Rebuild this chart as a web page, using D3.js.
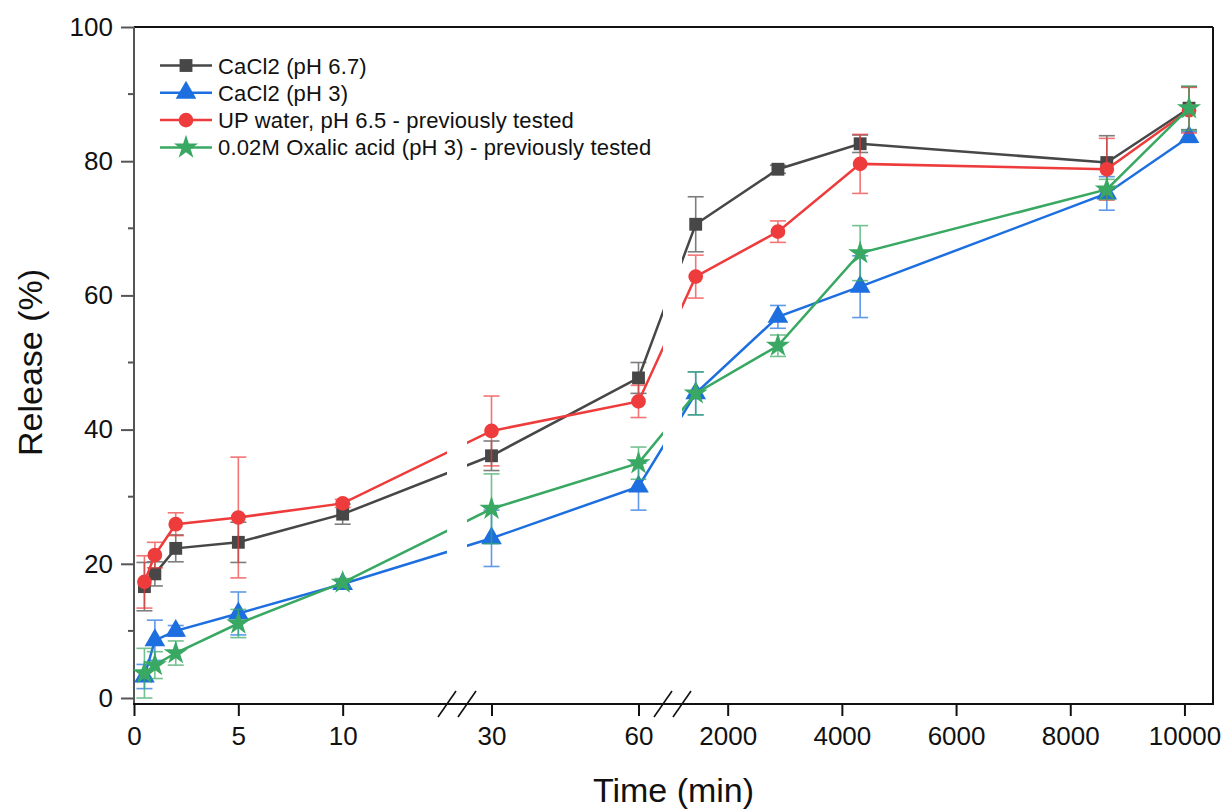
<!DOCTYPE html>
<html lang="en">

<head>
    <meta charset="UTF-8">
    <title>Release vs Time</title>

    <script src="https://cdn.jsdelivr.net/npm/d3@7"></script>

    <style>
        body {
            margin: 0;
            background: #fff;
        }

        text {
            font-family: "Liberation Sans", Arial, sans-serif;
            fill: #111;
        }

        .tick text {
            font-size: 26px;
        }

        .axis_title {
            font-size: 34px;
        }

        .legend_text {
            font-size: 22px;
            letter-spacing: 0.15px;
        }
    </style>

</head>

<body>
    <svg width="1226" height="810"></svg>

    <script>
        // data
        const times = [0.5, 1, 2, 5, 10, 30, 60, 1440, 2880, 4320, 8640, 10080];

        const cacl2_67 = [16.6, 18.5, 22.3, 23.2, 27.4, 36.1, 47.7, 70.6, 78.8, 82.6, 79.8, 87.9];
        const cacl2_67_err = [3.6, 1.8, 2.0, 3.0, 1.5, 2.2, 2.3, 4.1, 0.6, 1.3, 4.0, 3.2];

        const cacl2_3 = [3.2, 8.6, 10.0, 12.6, 17.0, 23.8, 31.5, 45.4, 56.8, 61.3, 75.2, 83.6];
        const cacl2_3_err = [1.8, 3.0, 0.8, 3.2, 0.6, 4.2, 3.5, 3.2, 1.7, 4.6, 2.5, 0.8];

        const upWater = [17.3, 21.3, 25.9, 26.9, 29.0, 39.8, 44.2, 62.8, 69.5, 79.6, 78.8, 87.6];
        const upWater_err = [3.9, 1.9, 1.7, 9.0, 0.6, 5.2, 2.4, 3.2, 1.6, 4.4, 4.6, 3.4];

        const oxalic = [3.7, 4.9, 6.7, 11.1, 17.2, 28.2, 35.0, 45.4, 52.5, 66.3, 75.8, 87.9];
        const oxalic_err = [3.7, 2.0, 1.8, 2.1, 0.6, 5.2, 2.4, 3.2, 1.6, 4.1, 1.5, 3.3];

        const seriesNames = ["CaCl2 (pH 6.7)", "CaCl2 (pH 3)", "UP water, pH 6.5 - previously tested", "0.02M Oxalic acid (pH 3) - previously tested"];
        const seriesColors = ["#474747", "#1d6fe0", "#ee3b3b", "#38a862"];
        const seriesSymbols = [d3.symbolSquare, d3.symbolTriangle, d3.symbolCircle, d3.symbolStar];
        const symbolSizes = [165, 185, 170, 180];

        const xTicks1 = [0, 5, 10];
        const xTicks2 = [30, 60];
        const xTicks3 = [2000, 4000, 6000, 8000, 10000];
        const yTicks = [0, 20, 40, 60, 80, 100];
        const yMinorTicks = [10, 30, 50, 70, 90];

        const values = [cacl2_67, cacl2_3, upWater, oxalic];
        const errors = [cacl2_67_err, cacl2_3_err, upWater_err, oxalic_err];

        let svg = d3.select("svg");

        const mLeft = 134, mRight = 1213, mTop = 27, yZero = 698, axisY = 704;

        // broken x axis: three linear pieces
        const xs1 = d3.scaleLinear().domain([0, 15]).range([mLeft, 447]);
        const xs2 = d3.scaleLinear().domain([25, 65]).range([467, 663]);
        const xs3 = d3.scaleLinear().domain([1200, 10500]).range([682, mRight]);
        const x = t => t <= 15 ? xs1(t) : (t <= 65 ? xs2(t) : xs3(t));

        const y = d3.scaleLinear().domain([0, 100]).range([yZero, mTop]);

        // clip so the lines break where the axis breaks
        const clip = svg.append("defs").append("clipPath").attr("id", "segs");
        [xs1, xs2, xs3].forEach(s => {
            clip.append("rect")
                .attr("x", s.range()[0]).attr("y", 0)
                .attr("width", s.range()[1] - s.range()[0]).attr("height", 810);
        });

        // frame
        svg.append("line").attr("x1", mLeft).attr("x2", mRight).attr("y1", mTop).attr("y2", mTop)
            .attr("stroke", "#111").attr("stroke-width", 2);
        svg.append("line").attr("x1", mRight).attr("x2", mRight).attr("y1", mTop).attr("y2", axisY)
            .attr("stroke", "#111").attr("stroke-width", 2);

        // y axis
        const yAxis = svg.append("g").attr("transform", `translate(${mLeft},0)`)
            .call(d3.axisLeft(y).tickValues(yTicks).tickSize(13).tickPadding(8).tickSizeOuter(0));
        yAxis.select(".domain").remove();
        yAxis.selectAll(".tick line").attr("stroke", "#555").attr("stroke-width", 2);
        svg.append("g").attr("transform", `translate(${mLeft},0)`)
            .selectAll("line").data(yMinorTicks).enter().append("line")
            .attr("x1", -6).attr("x2", 0)
            .attr("y1", d => y(d)).attr("y2", d => y(d))
            .attr("stroke", "#555").attr("stroke-width", 2);
        svg.append("line").attr("x1", mLeft).attr("x2", mLeft).attr("y1", mTop).attr("y2", axisY + 1)
            .attr("stroke", "#555").attr("stroke-width", 2);

        // x axis pieces
        [[xs1, xTicks1], [xs2, xTicks2], [xs3, xTicks3]].forEach(([s, tv]) => {
            const g = svg.append("g").attr("transform", `translate(0,${axisY})`)
                .call(d3.axisBottom(s).tickValues(tv).tickSize(12).tickPadding(11).tickFormat(d3.format("d")));
            g.select(".domain").remove();
            g.selectAll(".tick line").attr("stroke", "#111").attr("stroke-width", 2);
        });
        svg.append("line").attr("x1", mLeft - 1).attr("x2", mRight + 1).attr("y1", axisY).attr("y2", axisY)
            .attr("stroke", "#111").attr("stroke-width", 2);

        // break marks
        const breaks = [447, 467, 663, 682];
        svg.append("g").selectAll("line").data(breaks).enter().append("line")
            .attr("x1", d => d - 9).attr("x2", d => d + 9)
            .attr("y1", axisY + 13).attr("y2", axisY - 13)
            .attr("stroke", "#111").attr("stroke-width", 1.6);

        // axis titles
        svg.append("text").attr("class", "axis_title")
            .attr("x", (mLeft + mRight) / 2).attr("y", 802)
            .attr("text-anchor", "middle").text("Time (min)");
        svg.append("text").attr("class", "axis_title")
            .attr("transform", `translate(42,${(mTop + yZero) / 2}) rotate(-90)`)
            .attr("text-anchor", "middle").text("Release (%)");

        const line = d3.line().x(d => x(d.t)).y(d => y(d.v));

        values.forEach((vals, i) => {
            const pts = times.map((t, j) => ({ t: t, v: vals[j], e: errors[i][j] }));
            const col = seriesColors[i];
            const g = svg.append("g");

            // error bars
            const eb = g.append("g").attr("stroke", col).attr("stroke-width", 1.6).attr("opacity", 0.7);
            pts.forEach(p => {
                const cx = x(p.t);
                eb.append("line").attr("x1", cx).attr("x2", cx).attr("y1", y(p.v - p.e)).attr("y2", y(p.v + p.e));
                eb.append("line").attr("x1", cx - 8).attr("x2", cx + 8).attr("y1", y(p.v - p.e)).attr("y2", y(p.v - p.e));
                eb.append("line").attr("x1", cx - 8).attr("x2", cx + 8).attr("y1", y(p.v + p.e)).attr("y2", y(p.v + p.e));
            });

            g.append("path").datum(pts)
                .attr("d", line)
                .attr("clip-path", "url(#segs)")
                .attr("fill", "none")
                .attr("stroke", col)
                .attr("stroke-width", 2.5);

            g.selectAll(".pt").data(pts).enter().append("path")
                .attr("transform", d => `translate(${x(d.t)},${y(d.v)})`)
                .attr("d", d3.symbol().type(seriesSymbols[i]).size(symbolSizes[i]))
                .attr("fill", col);
        });

        // legend
        const legend = svg.append("g").attr("transform", "translate(160,65.5)");
        seriesNames.forEach((name, i) => {
            const row = legend.append("g").attr("transform", `translate(0,${i * 27.3})`);
            row.append("line").attr("x1", 0).attr("x2", 52).attr("y1", 0).attr("y2", 0)
                .attr("stroke", seriesColors[i]).attr("stroke-width", 2.5);
            row.append("path").attr("transform", "translate(26,0)")
                .attr("d", d3.symbol().type(seriesSymbols[i]).size(symbolSizes[i]))
                .attr("fill", seriesColors[i]);
            row.append("text").attr("class", "legend_text")
                .attr("x", 58).attr("y", 8).text(name);
        });
    </script>
</body>

</html>
